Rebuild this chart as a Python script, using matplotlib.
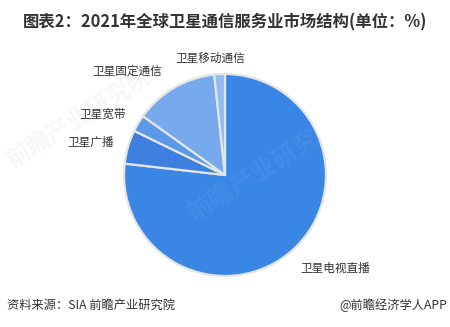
import matplotlib
matplotlib.use("Agg")
import matplotlib.pyplot as plt

plt.rcParams['font.family'] = ['Noto Sans CJK SC', 'DejaVu Sans']

# Market structure of global satellite services, 2021 (%)
segments = ['卫星电视直播', '卫星广播', '卫星宽带', '卫星固定通信', '卫星移动通信']
shares = [76.8, 5.4, 2.7, 13.4, 1.7]
colors = ['#3a86e5', '#3e80df', '#5a98ea', '#77aaed', '#90bcf2']

title = '图表2：2021年全球卫星通信服务业市场结构(单位：%)'
source = '资料来源：SIA 前瞻产业研究院'
credit = '@前瞻经济学人APP'

W, H = 450, 327
fig = plt.figure(figsize=(W / 100, H / 100), dpi=100)
fig.patch.set_facecolor('white')

# faint watermark
fig.text(80 / W, 1 - 118 / H, '前瞻产业研究院', fontsize=17, color='#000000', alpha=0.035,
         rotation=32, ha='center', va='center', fontweight='bold')

# pie axes: centre (225, 175) px, radius 103 px
cx, cy, r = 225, 175, 103
ax = fig.add_axes([(cx - r) / W, (H - cy - r) / H, 2 * r / W, 2 * r / H])
ax.pie(shares, colors=colors, startangle=90, counterclock=False, radius=1.0,
       wedgeprops=dict(edgecolor='#e4e4e4', linewidth=1.6))
ax.set_xlim(-1.02, 1.02)
ax.set_ylim(-1.02, 1.02)
ax.set_aspect('auto')
ax.axis('off')

fig.text(265 / W, 1 - 170 / H, '前瞻产业研究院', fontsize=18, color='white', alpha=0.05,
         rotation=32, ha='center', va='center', fontweight='bold')

# slice labels
label_pos = {
    '卫星电视直播': (300, 268),
    '卫星广播': (67, 142),
    '卫星宽带': (79, 114),
    '卫星固定通信': (92, 71),
    '卫星移动通信': (175, 58),
}
for name in segments:
    x, y = label_pos[name]
    fig.text(x / W, 1 - y / H, name, fontsize=8.4, color='#333333',
             ha='left', va='center')

fig.text(225 / W, 1 - 22 / H, title, fontsize=11.8, fontweight='bold',
         color='#333333', ha='center', va='center')
fig.text(7 / W, 1 - 305 / H, source, fontsize=8.8, color='#333333',
         ha='left', va='center')
fig.text(447 / W, 1 - 305 / H, credit, fontsize=8.8, color='#333333',
         ha='right', va='center')

fig.savefig('out.png', dpi=100, facecolor='white')
